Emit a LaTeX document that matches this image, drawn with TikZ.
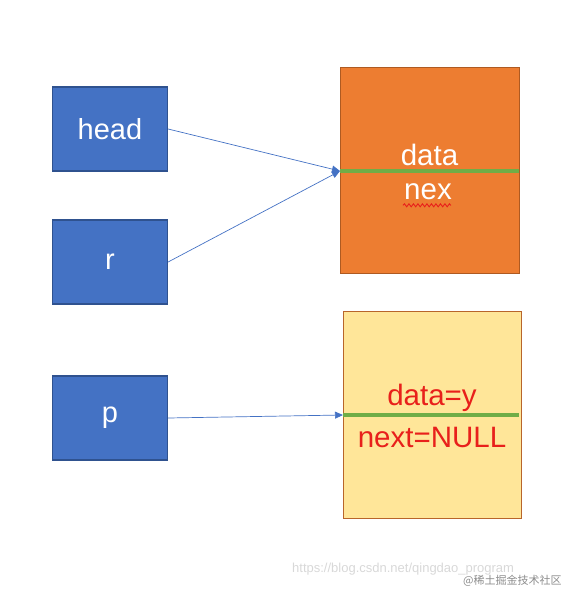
\documentclass[tikz,border=0pt]{standalone}
\usepackage{fontspec}
\setmainfont{Liberation Sans}
\newfontfamily\cjk{Noto Sans CJK SC}
\usetikzlibrary{arrows.meta,decorations.pathmorphing}
\definecolor{boxblue}{HTML}{4472C4}
\definecolor{boxblueb}{HTML}{2F528F}
\definecolor{orangefill}{HTML}{ED7D31}
\definecolor{orangeb}{HTML}{AE5A21}
\definecolor{yellowfill}{HTML}{FFE699}
\definecolor{yellowb}{HTML}{B8652B}
\definecolor{greenline}{HTML}{70AD47}
\definecolor{redtext}{HTML}{E8201B}
\definecolor{wm}{HTML}{D8D8D8}
\begin{document}
\begin{tikzpicture}[x=1pt,y=-1pt,
  ptr/.style={draw=boxblueb,fill=boxblue,line width=1.2pt,minimum width=115pt,minimum height=84pt,inner sep=0pt,text=white,font=\fontsize{29}{29}\selectfont},
  nodebox/.style={line width=1.2pt,inner sep=0pt,anchor=north west},
  link/.style={draw=boxblue,line width=0.7pt,-{Triangle[length=8pt,width=7pt]}},
  sep/.style={draw=greenline,line width=3.5pt},
  field/.style={font=\fontsize{29.5}{29.5}\selectfont,inner sep=0pt}]
\useasboundingbox (0,0) rectangle (574,590);
\node[ptr] (head) at (110,129) {head};
\node[ptr] (r) at (110,262) {r};
\node[ptr] (p) at (110,418) {p};
% orange node
\node[nodebox,draw=orangeb,fill=orangefill,minimum width=179pt,minimum height=206pt] (n1) at (340,67) {};
\coordinate (n1l) at (340,171);
\coordinate (n1r) at (519,171);
\draw[sep] (n1l) -- (n1r);
\node[field,text=white] (d1) at (429.5,155) {data};
\node[field,text=white] (x1) at (428,192) {nex};
\draw[redtext,line width=0.9pt,decorate,decoration={snake,amplitude=1.5pt,segment length=4.5pt}] (x1.south west)++(-1,5) -- ++(48,0);
% yellow node
\node[nodebox,draw=yellowb,fill=yellowfill,minimum width=178pt,minimum height=207pt] (n2) at (343,311) {};
\coordinate (n2l) at (343,415);
\coordinate (n2r) at (519,415);
\draw[sep] (n2l) -- (n2r);
\node[field,text=redtext] (d2) at (432,398) {data=y};
\node[field,text=redtext] (x2) at (432,437) {next=NULL};
% arrows
\draw[link] (head.east) -- (n1l);
\draw[link] (r.east) -- (n1l);
\draw[link] (p.east) -- (n2l);
% watermark
\node[text=wm,font=\fontsize{13}{13}\selectfont,inner sep=0pt,anchor=west] (wm1) at (292,569) {https://blog.csdn.net/qingdao\_program};
\node[text=black!45,font=\cjk\fontsize{11}{11}\selectfont,inner sep=0pt,anchor=west] (wm2) at (463,581) {@稀土掘金技术社区};
\end{tikzpicture}
\end{document}
